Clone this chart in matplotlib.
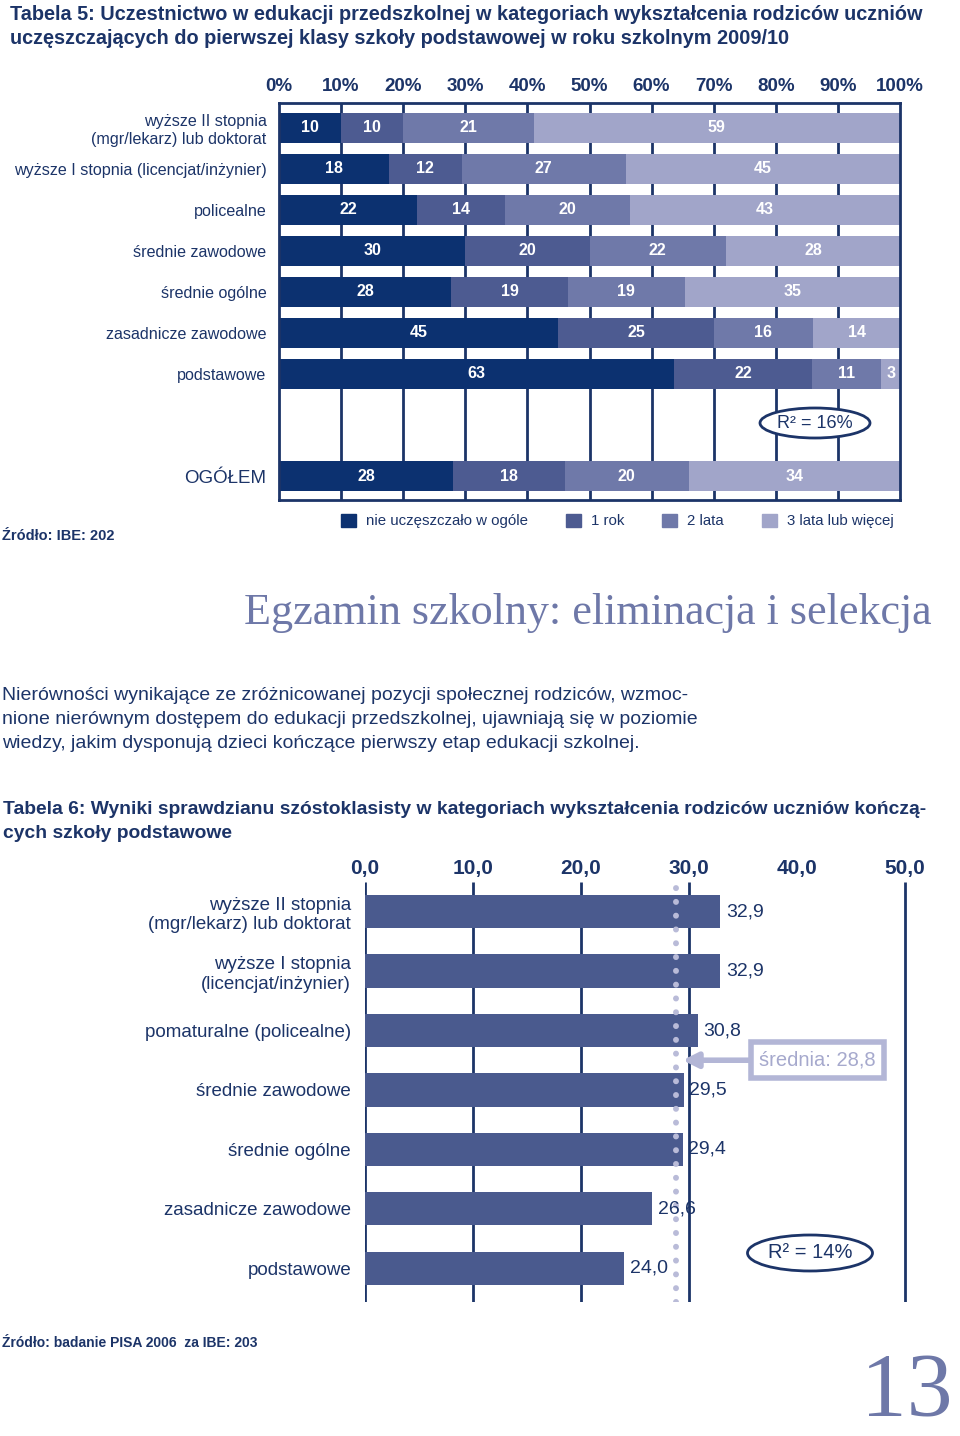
import matplotlib
matplotlib.use('Agg')
import matplotlib.pyplot as plt
from matplotlib import font_manager
from matplotlib.patches import Ellipse, Patch

# --- data ---------------------------------------------------------------
edu5 = ['wyższe II stopnia\n(mgr/lekarz) lub doktorat',
        'wyższe I stopnia (licencjat/inżynier)',
        'policealne', 'średnie zawodowe', 'średnie ogólne',
        'zasadnicze zawodowe', 'podstawowe', 'OGÓŁEM']
nie_uczeszczalo = [10, 18, 22, 30, 28, 45, 63, 28]
rok_1 = [10, 12, 14, 20, 19, 25, 22, 18]
lata_2 = [21, 27, 20, 22, 19, 16, 11, 20]
lata_3 = [59, 45, 43, 28, 35, 14, 3, 34]
series5_names = ['nie uczęszczało w ogóle', '1 rok', '2 lata', '3 lata lub więcej']
pct_ticks = [0, 10, 20, 30, 40, 50, 60, 70, 80, 90, 100]
r2_tab5 = 16

edu6 = ['wyższe II stopnia\n(mgr/lekarz) lub doktorat',
        'wyższe I stopnia\n(licencjat/inżynier)',
        'pomaturalne (policealne)', 'średnie zawodowe', 'średnie ogólne',
        'zasadnicze zawodowe', 'podstawowe']
wynik = [32.9, 32.9, 30.8, 29.5, 29.4, 26.6, 24.0]
srednia = 28.8
score_ticks = [0, 10, 20, 30, 40, 50]
score_grid = [0, 10, 20, 30, 50]
r2_tab6 = 14

# --- style --------------------------------------------------------------
NAVY = '#1c3468'
C5 = ['#0c3170', '#4d5b91', '#6f79a9', '#a1a5c9']
BAR6 = '#4a5a8e'
LIGHT = '#b3b6d6'
SERIF_C = '#6e78a8'


def pick_font(names):
    for n in names:
        try:
            font_manager.findfont(font_manager.FontProperties(family=n),
                                  fallback_to_default=False)
            return n
        except Exception:
            pass
    return 'DejaVu Sans'


SANS = pick_font(['Liberation Sans Narrow', 'Liberation Sans'])
SERIF = pick_font(['Liberation Serif', 'DejaVu Serif'])
plt.rcParams['font.family'] = [SANS, 'DejaVu Sans']

W, H = 960, 1436
fig = plt.figure(figsize=(W / 100, H / 100), dpi=100)


def fx(px):
    return px / W


def fy(py):
    return 1 - py / H


# --- headings -----------------------------------------------------------
fig.text(fx(10), fy(15), 'Tabela 5: Uczestnictwo w edukacji przedszkolnej w kategoriach '
         'wykształcenia rodziców uczniów', fontsize=14.3, weight='bold', color=NAVY, va='center')
fig.text(fx(10), fy(39), 'uczęszczających do pierwszej klasy szkoły podstawowej w roku '
         'szkolnym 2009/10', fontsize=14.3, weight='bold', color=NAVY, va='center')

# --- table 5: stacked bars ----------------------------------------------
ax1 = fig.add_axes([fx(279), fy(500), fx(900) - fx(279), (500 - 103) / H])
ypos5 = [0, 1, 2, 3, 4, 5, 6, 8.5]
ax1.set_xlim(0, 100)
ax1.set_ylim(9.085, -0.61)
ax1.vlines(pct_ticks[1:-1], -0.61, 9.085, color=NAVY, lw=2, zorder=1)

rows = list(zip(nie_uczeszczalo, rok_1, lata_2, lata_3))
for i, (y, row) in enumerate(zip(ypos5, rows)):
    tot = sum(row)
    left = 0
    for j, v in enumerate(row):
        w = v * 100 / tot
        ax1.barh(y, w, left=left, height=0.73, color=C5[j], zorder=2)
        ax1.text(left + w / 2, y, str(v), ha='center', va='center',
                 color='white', fontsize=11.5, weight='bold', zorder=3)
        left += w

ax1.xaxis.tick_top()
ax1.set_xticks(pct_ticks, [f'{t}%' for t in pct_ticks])
ax1.set_yticks(ypos5, edu5)
ax1.tick_params(axis='x', length=0, pad=6, labelsize=13.5, labelcolor=NAVY)
ax1.tick_params(axis='y', length=0, pad=9, labelsize=11.6, labelcolor=NAVY)
for lab in ax1.get_xticklabels():
    lab.set_fontweight('bold')
ax1.get_yticklabels()[-1].set_fontsize(13.5)
for sp in ax1.spines.values():
    sp.set_color(NAVY)
    sp.set_linewidth(2)

fig.patches.append(Ellipse((fx(815), fy(423)), fx(110), 30 / H, transform=fig.transFigure,
                           fc='white', ec=NAVY, lw=2))
fig.text(fx(815), fy(423), f'R² = {r2_tab5}%', ha='center', va='center',
         fontsize=13, color=NAVY)

handles = [Patch(color=c) for c in C5]
fig.legend(handles, series5_names, loc='center left', ncol=4,
           bbox_to_anchor=(fx(327), fy(521)), frameon=False, fontsize=10.8,
           labelcolor=NAVY, handlelength=1.0, handleheight=1.0,
           handletextpad=0.7, columnspacing=2.5)
fig.text(fx(2), fy(536), 'Źródło: IBE: 202', fontsize=10.5, weight='bold',
         color=NAVY, va='center')

# --- section text --------------------------------------------------------
fig.text(fx(932), fy(613), 'Egzamin szkolny: eliminacja i selekcja', ha='right',
         va='center', fontsize=31.8, family=SERIF, color=SERIF_C)
para = ['Nierówności wynikające ze zróżnicowanej pozycji społecznej rodziców, wzmoc-',
        'nione nierównym dostępem do edukacji przedszkolnej, ujawniają się w poziomie',
        'wiedzy, jakim dysponują dzieci kończące pierwszy etap edukacji szkolnej.']
for k, line in enumerate(para):
    fig.text(fx(2), fy(696 + 24 * k), line, fontsize=14, color=NAVY, va='center')

fig.text(fx(3), fy(810), 'Tabela 6: Wyniki sprawdzianu szóstoklasisty w kategoriach '
         'wykształcenia rodziców uczniów kończą-', fontsize=13.9, weight='bold',
         color=NAVY, va='center')
fig.text(fx(3), fy(834), 'cych szkoły podstawowe', fontsize=13.9, weight='bold',
         color=NAVY, va='center')

# --- table 6: horizontal bars -------------------------------------------
ax2 = fig.add_axes([fx(365), fy(1302), fx(930) - fx(365), (1302 - 882) / H])
ypos6 = list(range(len(edu6)))
ax2.set_xlim(0, (930 - 365) / 10.8)
ax2.set_ylim(6.57, -0.5)
ax2.vlines(score_grid, -0.5, 6.57, color=NAVY, lw=2, zorder=1)
ax2.barh(ypos6, wynik, height=0.56, color=BAR6, zorder=2)
for y, v in zip(ypos6, wynik):
    ax2.annotate(f'{v:.1f}'.replace('.', ','), (v, y), xytext=(4, 0),
                 textcoords='offset points', ha='left', va='center',
                 fontsize=14, color=NAVY, zorder=4)
ax2.axvline(srednia, color='#b9bbd8', lw=4.3, ls=(0, (0.01, 2.3)),
            dash_capstyle='round', zorder=3)
ax2.xaxis.tick_top()
ax2.set_xticks(score_ticks, [f'{t:.1f}'.replace('.', ',') for t in score_ticks])
ax2.set_yticks(ypos6, edu6)
ax2.tick_params(axis='x', length=0, pad=3, labelsize=15, labelcolor=NAVY)
ax2.tick_params(axis='y', length=0, pad=10, labelsize=13.5, labelcolor=NAVY)
for lab in ax2.get_xticklabels():
    lab.set_fontweight('bold')
for sp in ax2.spines.values():
    sp.set_visible(False)

ax2.annotate(f'średnia: {srednia:.1f}'.replace('.', ','), xy=(29.4, 2.5),
             xytext=(41.9, 2.5), ha='center', va='center', fontsize=14.5,
             color='#a6a9cd', zorder=5,
             bbox=dict(boxstyle='square,pad=0.42', fc='white', ec=LIGHT, lw=4),
             arrowprops=dict(arrowstyle='-|>', color=LIGHT, lw=4, mutation_scale=22,
                             shrinkA=0, shrinkB=0))

fig.patches.append(Ellipse((fx(810), fy(1253)), fx(125), 36 / H, transform=fig.transFigure,
                           fc='white', ec=NAVY, lw=2))
fig.text(fx(810), fy(1253), f'R² = {r2_tab6}%', ha='center', va='center',
         fontsize=14.5, color=NAVY)

fig.text(fx(2), fy(1343), 'Źródło: badanie PISA 2006  za IBE: 203', fontsize=10,
         weight='bold', color=NAVY, va='center')
fig.text(fx(953), fy(1416), '13', ha='right', va='baseline', fontsize=66,
         family=SERIF, color=SERIF_C)

fig.savefig('out.png', dpi=100)
